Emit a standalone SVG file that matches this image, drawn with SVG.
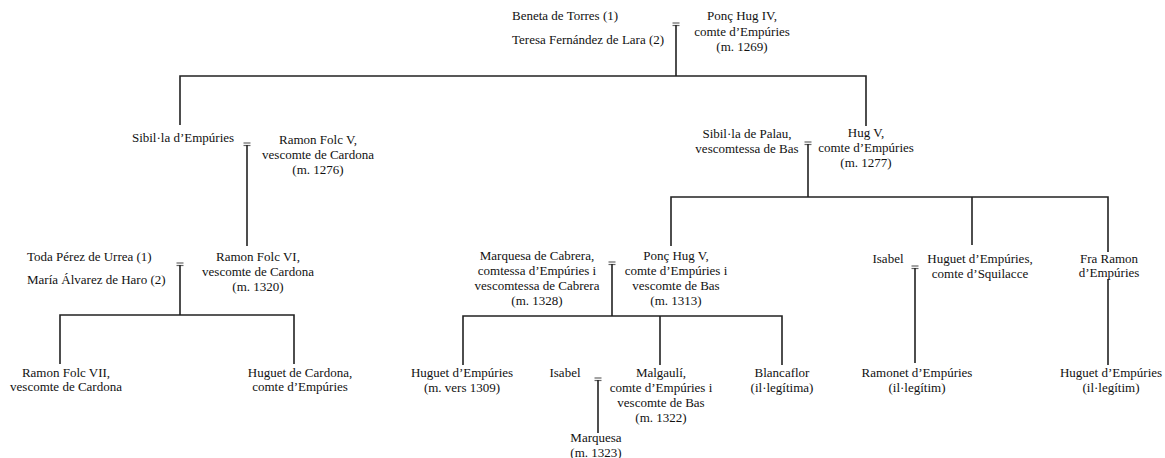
<svg xmlns="http://www.w3.org/2000/svg" width="1165" height="458" viewBox="0 0 1165 458">
<style>
text{font-family:"Liberation Serif","Times New Roman",serif;font-size:13px;fill:#111}
.c{text-anchor:middle}
.ln{stroke:#222;stroke-width:1.6;fill:none}
.mk{stroke:#666;stroke-width:1.2;fill:none}
</style>
<rect width="1165" height="458" fill="#fff"/>
<defs>
<g id="m"><line class="mk" x1="-3.5" y1="0" x2="3.5" y2="0"/><line class="mk" x1="-3.5" y1="2.5" x2="3.5" y2="2.5"/></g>
</defs>
<g id="connectors">
<use href="#m" x="676" y="23"/>
<path class="ln" d="M676,25V76M180,125V76H866V126"/>
<use href="#m" x="247" y="143"/>
<path class="ln" d="M247,145V246"/>
<use href="#m" x="808" y="142"/>
<path class="ln" d="M808,144V197M671,246V197H1108V252M972,197V245"/>
<use href="#m" x="612" y="262"/>
<path class="ln" d="M612,264V316M463,365V316H782V365M660,316V365"/>
<use href="#m" x="180" y="263"/>
<path class="ln" d="M180,265V315M60,364V315H294V364"/>
<use href="#m" x="915" y="266"/>
<path class="ln" d="M915,268V363M1108,279V365"/>
<use href="#m" x="598" y="378"/>
<path class="ln" d="M598,380V433"/>
</g>
<g id="beneta"><text x="512" y="20">Beneta de Torres (1)</text></g>
<g id="teresa"><text x="512" y="44">Teresa Fernández de Lara (2)</text></g>
<g id="ponc4"><text class="c" x="742" y="20">Ponç Hug IV,</text><text class="c" x="742" y="36">comte d’Empúries</text><text class="c" x="742" y="51">(m. 1269)</text></g>
<g id="sibilla"><text class="c" x="183" y="142">Sibil·la d’Empúries</text></g>
<g id="ramonfolc5"><text class="c" x="318" y="144">Ramon Folc V,</text><text class="c" x="318" y="159">vescomte de Cardona</text><text class="c" x="318" y="174">(m. 1276)</text></g>
<g id="sibillapalau"><text class="c" x="747" y="138">Sibil·la de Palau,</text><text class="c" x="747" y="153">vescomtessa de Bas</text></g>
<g id="hug5"><text class="c" x="866" y="137">Hug V,</text><text class="c" x="866" y="152">comte d’Empúries</text><text class="c" x="866" y="167">(m. 1277)</text></g>
<g id="toda"><text x="27" y="261">Toda Pérez de Urrea (1)</text></g>
<g id="maria"><text x="27" y="284">María Álvarez de Haro (2)</text></g>
<g id="ramonfolc6"><text class="c" x="258" y="261">Ramon Folc VI,</text><text class="c" x="258" y="276">vescomte de Cardona</text><text class="c" x="258" y="291">(m. 1320)</text></g>
<g id="marquesacab"><text class="c" x="537" y="260">Marquesa de Cabrera,</text><text class="c" x="537" y="275">comtessa d’Empúries i</text><text class="c" x="537" y="290">vescomtessa de Cabrera</text><text class="c" x="537" y="305">(m. 1328)</text></g>
<g id="ponc5"><text class="c" x="676" y="260">Ponç Hug V,</text><text class="c" x="676" y="275">comte d’Empúries i</text><text class="c" x="676" y="290">vescomte de Bas</text><text class="c" x="676" y="305">(m. 1313)</text></g>
<g id="isabel1"><text class="c" x="888" y="263">Isabel</text></g>
<g id="huguetsq"><text class="c" x="980" y="263">Huguet d’Empúries,</text><text class="c" x="980" y="278">comte d’Squilacce</text></g>
<g id="fraramon"><text class="c" x="1109" y="263">Fra Ramon</text><text class="c" x="1109" y="277">d’Empúries</text></g>
<g id="ramonfolc7"><text class="c" x="66" y="377">Ramon Folc VII,</text><text class="c" x="66" y="391">vescomte de Cardona</text></g>
<g id="huguetcard"><text class="c" x="300" y="377">Huguet de Cardona,</text><text class="c" x="300" y="391">comte d’Empúries</text></g>
<g id="huguet1309"><text class="c" x="462" y="377">Huguet d’Empúries</text><text class="c" x="462" y="392">(m. vers 1309)</text></g>
<g id="isabel2"><text class="c" x="565" y="377">Isabel</text></g>
<g id="malgauli"><text class="c" x="661" y="377">Malgaulí,</text><text class="c" x="661" y="392">comte d’Empúries i</text><text class="c" x="661" y="407">vescomte de Bas</text><text class="c" x="661" y="422">(m. 1322)</text></g>
<g id="blancaflor"><text class="c" x="782" y="377">Blancaflor</text><text class="c" x="782" y="392">(il·legítima)</text></g>
<g id="marquesa1323"><text class="c" x="596" y="442">Marquesa</text><text class="c" x="596" y="457">(m. 1323)</text></g>
<g id="ramonet"><text class="c" x="917" y="377">Ramonet d’Empúries</text><text class="c" x="917" y="392">(il·legítim)</text></g>
<g id="huguetileg"><text class="c" x="1111" y="377">Huguet d’Empúries</text><text class="c" x="1111" y="392">(il·legítim)</text></g>
</svg>
